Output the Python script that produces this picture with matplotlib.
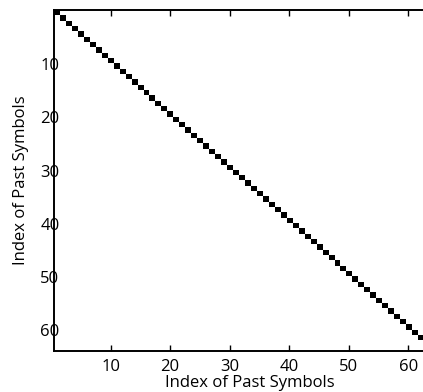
import numpy as np
import matplotlib
matplotlib.use("Agg")
import matplotlib.pyplot as plt
from matplotlib.transforms import ScaledTranslation

# correlation of past symbols: only each symbol with itself
n_symbols = 64
symbol_index = np.arange(1, n_symbols + 1)
corr = (symbol_index[:, None] == symbol_index[None, :]).astype(float)

tick_values = [10, 20, 30, 40, 50, 60]
axis_label = "Index of Past Symbols"

plt.rcParams["font.family"] = ["Open Sans", "DejaVu Sans"]

fig = plt.figure(figsize=(4.23, 3.92), dpi=100)
# axes run past the right edge of the figure, so the last column is cut off
ax = fig.add_axes([54 / 423, 41 / 392, 381 / 423, 341 / 392])

ax.imshow(corr, cmap="gray_r", interpolation="nearest", aspect="auto",
          extent=(0.5, n_symbols + 0.5, n_symbols + 0.5, 0.5), vmin=0, vmax=1)

ax.set_xticks(tick_values)
ax.set_yticks(tick_values)
ax.tick_params(direction="in", length=4, width=1, top=True, right=True,
               labelsize=12, colors="black")
ax.tick_params(axis="y", pad=-4, left=False)
ax.tick_params(axis="x", pad=6)
# y labels sit a little below their tick
shift = ScaledTranslation(0, -2.5 / 72, fig.dpi_scale_trans)
for lbl in ax.get_yticklabels():
    lbl.set_transform(lbl.get_transform() + shift)
for s in ax.spines.values():
    s.set_linewidth(1.4)

ax.set_xlabel(axis_label, fontsize=12, labelpad=-0.5)
ax.set_ylabel(axis_label, fontsize=12, labelpad=8)
ax.xaxis.label.set_x(0.515)

fig.savefig("out.png", dpi=100)
